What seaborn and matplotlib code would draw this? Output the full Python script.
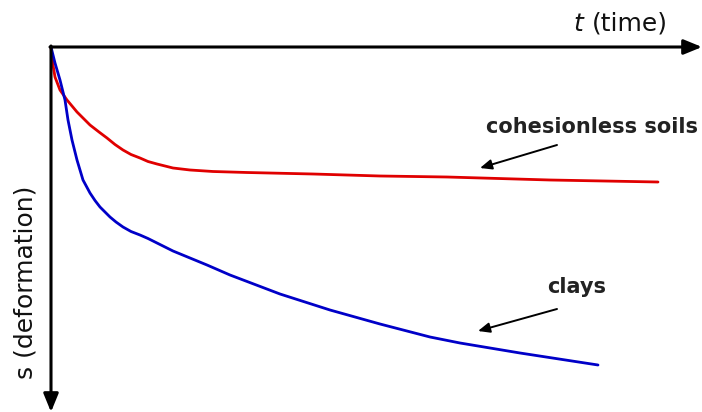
import numpy as np
import pandas as pd
import seaborn as sns
import matplotlib.pyplot as plt

# settlement vs time curves (t and s in drawing units, origin at top-left corner)
t_sand = [0, 2, 4, 9, 16, 26, 39, 48, 56, 64, 72, 80, 89, 97, 106, 122, 139, 162, 196,
          262, 329, 396, 499, 607]
s_sand = [0, 18, 30, 43, 53, 65, 78, 85, 91, 97.5, 103, 107.5, 111, 114.5, 117, 121, 123,
          124.5, 125.5, 127, 129, 130, 133, 135]

t_clay = [0, 4, 9, 14, 17, 21, 26, 32, 39, 44, 49, 54, 59, 65, 72, 80, 89, 97, 106, 122,
          139, 156, 179, 229, 279, 329, 379, 409, 469, 547]
s_clay = [0, 16, 33, 53, 73, 93, 113, 133, 146, 153.5, 160, 165, 170, 175, 180, 184.5, 188,
          191.5, 196, 204, 211, 218, 228, 247, 263, 277, 290, 296, 306, 318]

x_sym = "t"
x_label = "(time)"
y_label = "s (deformation)"
lbl_sand = "cohesionless soils"
lbl_clay = "clays"

df = pd.concat([
    pd.DataFrame({"t": t_sand, "s": s_sand, "soil": lbl_sand}),
    pd.DataFrame({"t": t_clay, "s": s_clay, "soil": lbl_clay}),
])

sns.set_style("white")
plt.rcParams["font.family"] = ["DejaVu Sans"]

fig = plt.figure(figsize=(7.02, 4.12), dpi=100)
ax = fig.add_axes([0, 0, 1, 1])

sns.lineplot(data=df, x="t", y="s", hue="soil", sort=False, ax=ax,
             palette={lbl_sand: "#e00000", lbl_clay: "#0000c8"},
             linewidth=2.0, legend=False)

ax.set_xlim(-51, 651)
ax.set_ylim(365, -47)
ax.axis("off")

# axes with arrow heads
ax.annotate("", xy=(651, 0), xytext=(-1, 0),
            arrowprops=dict(arrowstyle="-|>,head_length=1.1,head_width=0.45",
                            color="black", lw=2.2, shrinkA=0, shrinkB=0))
ax.annotate("", xy=(0, 365), xytext=(0, -1),
            arrowprops=dict(arrowstyle="-|>,head_length=1.1,head_width=0.45",
                            color="black", lw=2.2, shrinkA=0, shrinkB=0))

ax.text(522, -23, x_sym, fontsize=18, style="italic", ha="left", va="center",
        color="#111111")
ax.text(541, -23, x_label, fontsize=18, ha="left", va="center", color="#111111")
ax.text(-26, 235, y_label, fontsize=18, rotation=90, ha="center", va="center",
        color="#111111")

# labels with pointer arrows
ax.text(541, 80, lbl_sand, fontsize=15, fontweight="bold", ha="center",
        va="center", color="#222222")
ax.annotate("", xy=(429, 121), xytext=(506, 98),
            arrowprops=dict(arrowstyle="-|>,head_length=0.7,head_width=0.3",
                            color="black", lw=1.4, shrinkA=0, shrinkB=0))

ax.text(526, 240, lbl_clay, fontsize=15, fontweight="bold", ha="center",
        va="center", color="#222222")
ax.annotate("", xy=(427, 284), xytext=(506, 262),
            arrowprops=dict(arrowstyle="-|>,head_length=0.7,head_width=0.3",
                            color="black", lw=1.4, shrinkA=0, shrinkB=0))

fig.savefig("out.png", dpi=100)
